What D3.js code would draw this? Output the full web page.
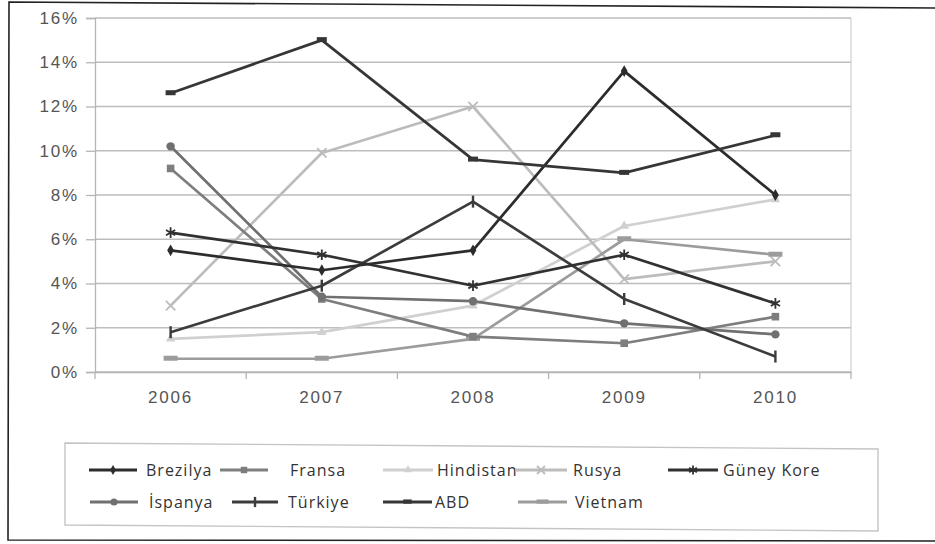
<!DOCTYPE html>
<html>
<head>
<meta charset="utf-8">
<script src="https://cdn.jsdelivr.net/npm/d3@7"></script>
<style>
  html, body { margin: 0; padding: 0; background: #fff; }
  svg { display: block; }
</style>
</head>
<body>
<svg id="chart" width="935" height="544"></svg>
<script>
// Yıllar ve ülkelere göre oranlar (%)
const years = ["2006", "2007", "2008", "2009", "2010"];
const yTicks = [0, 2, 4, 6, 8, 10, 12, 14, 16];

const brezilya  = [5.5, 4.6, 5.5, 13.6, 8.0];
const fransa    = [9.2, 3.3, 1.6, 1.3, 2.5];
const hindistan = [1.5, 1.8, 3.0, 6.6, 7.8];
const rusya     = [3.0, 9.9, 12.0, 4.2, 5.0];
const guneyKore = [6.3, 5.3, 3.9, 5.3, 3.1];
const ispanya   = [10.2, 3.4, 3.2, 2.2, 1.7];
const turkiye   = [1.8, 3.9, 7.7, 3.3, 0.7];
const abd       = [12.6, 15.0, 9.6, 9.0, 10.7];
const vietnam   = [0.6, 0.6, 1.5, 6.0, 5.3];

const seriesNames = ["Brezilya", "Fransa", "Hindistan", "Rusya", "Güney Kore",
                     "İspanya", "Türkiye", "ABD", "Vietnam"];
const seriesValues = [brezilya, fransa, hindistan, rusya, guneyKore,
                      ispanya, turkiye, abd, vietnam];

// Çizgi rengi ve işaret türü
const styles = {
  "Brezilya":   { color: "#2c2c2c", marker: "diamond" },
  "Fransa":     { color: "#7e7e7e", marker: "square" },
  "Hindistan":  { color: "#d0d0d0", marker: "triangle" },
  "Rusya":      { color: "#bcbcbc", marker: "x" },
  "Güney Kore": { color: "#313131", marker: "asterisk" },
  "İspanya":    { color: "#707070", marker: "circle" },
  "Türkiye":    { color: "#3c3c3c", marker: "bar" },
  "ABD":        { color: "#363636", marker: "dash" },
  "Vietnam":    { color: "#9c9c9c", marker: "wide" }
};

const series = seriesNames.map((name, i) => ({
  name, values: seriesValues[i], ...styles[name]
}));

const svg = d3.select("#chart");

// dış çerçeve
svg.append("path")
  .attr("d", "M9,2 L945,8 L945,541 L8,540 Z")
  .attr("fill", "none")
  .attr("stroke", "#222")
  .attr("stroke-width", 1.6);

const plot = { left: 95, right: 851, top: 18, bottom: 372 };

const x = d3.scaleBand().domain(years).range([plot.left, plot.right]);
const y = d3.scaleLinear().domain([0, 16]).range([plot.bottom, plot.top]);

// yatay kılavuz çizgileri
svg.append("g")
  .selectAll("line")
  .data(yTicks)
  .join("line")
  .attr("x1", plot.left).attr("x2", plot.right)
  .attr("y1", d => y(d)).attr("y2", d => y(d))
  .attr("stroke", "#bdbdbd")
  .attr("stroke-width", 1.4);

// çizim alanı sınırı (sağ)
svg.append("line")
  .attr("x1", plot.right).attr("x2", plot.right)
  .attr("y1", plot.top).attr("y2", plot.bottom)
  .attr("stroke", "#cfcfcf").attr("stroke-width", 1.2);

const axisFont = "'Liberation Sans', Arial, sans-serif";

// Y ekseni
const yAxis = d3.axisLeft(y)
  .tickValues(yTicks)
  .tickFormat(d => d + "%")
  .tickSize(9)
  .tickPadding(7);
const gy = svg.append("g")
  .attr("transform", `translate(${plot.left},0)`)
  .call(yAxis);
gy.select(".domain").attr("stroke", "#b5b5b5").attr("stroke-width", 1.3);
gy.selectAll(".tick line").attr("stroke", "#b5b5b5").attr("stroke-width", 1.3);
gy.selectAll(".tick text")
  .attr("font-family", axisFont)
  .attr("font-size", 17)
  .attr("letter-spacing", 1.8)
  .attr("fill", "#555");

// X ekseni
const xAxis = d3.axisBottom(x).tickSize(0).tickPadding(19);
const gx = svg.append("g")
  .attr("transform", `translate(0,${plot.bottom})`)
  .call(xAxis);
gx.select(".domain").attr("stroke", "#b5b5b5").attr("stroke-width", 1.3);
gx.selectAll(".tick text")
  .attr("font-family", axisFont)
  .attr("font-size", 17)
  .attr("letter-spacing", 1.8)
  .attr("fill", "#555");

// kategori sınırlarındaki kısa çentikler
const bounds = years.map(d => x(d)).concat([plot.right]);
svg.append("g")
  .selectAll("line")
  .data(bounds)
  .join("line")
  .attr("x1", d => d).attr("x2", d => d)
  .attr("y1", plot.bottom).attr("y2", plot.bottom + 7)
  .attr("stroke", "#b5b5b5").attr("stroke-width", 1.3);

const cx = d => x(d) + x.bandwidth() / 2;

// işaret çizimi
function drawMarker(g, type, color, px, py, scale = 1) {
  const s = scale;
  switch (type) {
    case "diamond":
      g.append("path").attr("d", d3.symbol(d3.symbolDiamond, 40 * s * s)())
        .attr("transform", `translate(${px},${py})`).attr("fill", color);
      break;
    case "square":
      g.append("rect").attr("x", px - 3.8 * s).attr("y", py - 3.8 * s)
        .attr("width", 7.6 * s).attr("height", 7.6 * s).attr("fill", color);
      break;
    case "triangle":
      g.append("path").attr("d", d3.symbol(d3.symbolTriangle, 40 * s * s)())
        .attr("transform", `translate(${px},${py})`).attr("fill", color);
      break;
    case "x":
      g.append("path").attr("d", d3.symbol(d3.symbolX, 60 * s * s)())
        .attr("transform", `translate(${px},${py})`)
        .attr("fill", "none").attr("stroke", color).attr("stroke-width", 1.8);
      break;
    case "asterisk":
      g.append("path").attr("d", d3.symbol(d3.symbolAsterisk, 80 * s * s)())
        .attr("transform", `translate(${px},${py})`)
        .attr("fill", "none").attr("stroke", color).attr("stroke-width", 1.8);
      break;
    case "circle":
      g.append("circle").attr("cx", px).attr("cy", py).attr("r", 4.2 * s)
        .attr("fill", color);
      break;
    case "bar":
      g.append("line").attr("x1", px).attr("x2", px)
        .attr("y1", py - 6 * s).attr("y2", py + 6 * s)
        .attr("stroke", color).attr("stroke-width", 2.4);
      break;
    case "dash":
      g.append("rect").attr("x", px - 5 * s).attr("y", py - 3 * s)
        .attr("width", 10 * s).attr("height", 5 * s).attr("fill", color);
      break;
    case "wide":
      g.append("rect").attr("x", px - 7 * s).attr("y", py - 3 * s)
        .attr("width", 14 * s).attr("height", 5 * s).attr("fill", color);
      break;
  }
}

// seriler: önce açık tonlar, sonra koyu tonlar
const order = ["Hindistan", "Rusya", "Vietnam", "Fransa", "İspanya",
               "Türkiye", "Güney Kore", "Brezilya", "ABD"];
const line = d3.line()
  .x((d, i) => cx(years[i]))
  .y(d => y(d));

order.forEach(name => {
  const s = series.find(t => t.name === name);
  const g = svg.append("g");
  g.append("path")
    .attr("d", line(s.values))
    .attr("fill", "none")
    .attr("stroke", s.color)
    .attr("stroke-width", 2.7)
    .attr("stroke-linejoin", "round");
  s.values.forEach((v, i) => drawMarker(g, s.marker, s.color, cx(years[i]), y(v)));
});

// gösterge
svg.append("path")
  .attr("d", "M65,443 L878,449 L878,531 L65,525 Z")
  .attr("fill", "none")
  .attr("stroke", "#c4c4c4")
  .attr("stroke-width", 1.4);

const legendPos = [
  { name: "Brezilya",   x1: 89,  x2: 137, tx: 146, row: 0 },
  { name: "Fransa",     x1: 220, x2: 268, tx: 290, row: 0 },
  { name: "Hindistan",  x1: 383, x2: 433, tx: 437, row: 0 },
  { name: "Rusya",      x1: 515, x2: 567, tx: 573, row: 0 },
  { name: "Güney Kore", x1: 668, x2: 718, tx: 723, row: 0 },
  { name: "İspanya",    x1: 90,  x2: 138, tx: 149, row: 1 },
  { name: "Türkiye",    x1: 232, x2: 278, tx: 288, row: 1 },
  { name: "ABD",        x1: 383, x2: 432, tx: 435, row: 1 },
  { name: "Vietnam",    x1: 518, x2: 567, tx: 575, row: 1 }
];
const rowY = [470, 502];

legendPos.forEach(p => {
  const s = series.find(t => t.name === p.name);
  const g = svg.append("g");
  const ly = rowY[p.row];
  g.append("line")
    .attr("x1", p.x1).attr("x2", p.x2).attr("y1", ly).attr("y2", ly)
    .attr("stroke", s.color).attr("stroke-width", 2.8);
  drawMarker(g, s.marker, s.color, (p.x1 + p.x2) / 2, ly, 0.85);
  g.append("text")
    .attr("x", p.tx).attr("y", ly + 5.5)
    .attr("font-family", "'Open Sans', 'DejaVu Sans', sans-serif")
    .attr("font-size", 16)
    .attr("letter-spacing", 1)
    .attr("fill", "#333")
    .text(p.name);
});
</script>
</body>
</html>
